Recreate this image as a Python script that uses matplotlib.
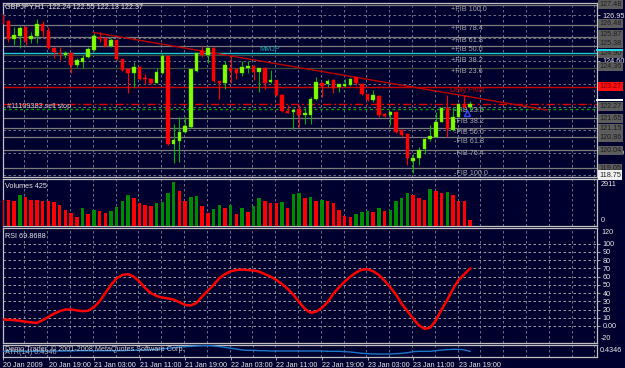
import numpy as np
import matplotlib
matplotlib.use("Agg")
import matplotlib.pyplot as plt
from matplotlib.transforms import blended_transform_factory

plt.rcParams['font.family'] = ['Liberation Sans', 'DejaVu Sans']

# GBPJPY H1 bars, 20 Jan 2009 11:00 .. 23 Jan 2009 21:00
opens = [126.95, 126.66, 125.72, 125.87, 126.32, 125.70, 125.87, 126.47, 126.13, 125.28,
         125.02, 124.90, 125.02, 124.39, 124.53, 124.78, 125.16, 125.84, 125.79, 125.38,
         125.67, 124.68, 124.18, 124.00, 124.30, 123.71, 123.67, 123.48, 123.96, 124.85,
         120.32, 120.51, 120.94, 121.19, 124.08, 125.11, 124.90, 125.28, 123.57, 123.48,
         124.25, 124.17, 123.96, 124.25, 124.35, 124.01, 124.25, 123.50, 123.62, 122.85,
         122.05, 121.98, 122.12, 121.84, 121.83, 122.63, 123.48, 123.41, 123.62, 123.24,
         123.31, 123.36, 123.76, 123.41, 122.89, 122.60, 122.82, 121.86, 121.83, 122.00,
         121.06, 120.85, 119.49, 119.61, 120.07, 120.58, 120.72, 121.48, 122.20, 121.06,
         121.74, 122.37, 122.24]
highs = [127.00, 126.69, 126.35, 126.39, 126.35, 126.10, 126.73, 126.66, 126.32, 125.33,
         125.33, 125.12, 125.07, 124.73, 124.90, 125.33, 126.01, 126.10, 125.81, 125.76,
         125.70, 124.70, 124.22, 124.56, 124.34, 123.93, 123.71, 124.22, 124.99, 124.87,
         121.37, 121.74, 121.74, 124.19, 125.07, 125.36, 125.33, 125.33, 123.59, 124.59,
         124.85, 124.20, 124.59, 124.59, 124.39, 124.24, 124.30, 124.13, 123.64, 122.89,
         122.34, 122.12, 122.34, 122.17, 122.77, 123.79, 123.53, 123.67, 123.65, 123.41,
         123.65, 123.74, 123.79, 123.45, 122.91, 123.11, 122.84, 121.91, 122.03, 122.02,
         121.09, 120.89, 119.83, 120.20, 120.63, 121.31, 122.00, 122.25, 122.85, 122.25,
         122.42, 122.85, 122.55]
lows = [126.50, 125.58, 125.41, 125.24, 125.41, 125.50, 125.50, 125.84, 125.19, 124.73,
        124.65, 124.73, 123.96, 124.30, 124.25, 124.73, 125.12, 125.58, 125.33, 125.29,
        124.65, 124.10, 122.97, 123.28, 123.62, 123.41, 123.41, 123.45, 123.93, 120.29,
        119.38, 119.43, 120.89, 121.14, 124.05, 124.82, 124.47, 123.53, 122.65, 123.14,
        123.48, 123.67, 123.83, 124.00, 123.62, 123.02, 123.14, 123.45, 122.80, 122.00,
        121.91, 121.09, 121.19, 121.37, 121.37, 122.60, 122.73, 123.24, 122.94, 123.02,
        123.24, 123.33, 123.36, 122.85, 122.54, 122.51, 121.74, 121.71, 121.31, 120.92,
        120.72, 119.26, 118.84, 119.26, 119.83, 120.51, 120.68, 121.45, 120.72, 121.02,
        121.71, 122.20, 122.13]
closes = [126.56, 125.70, 125.93, 126.27, 125.64, 125.87, 126.47, 126.15, 125.24, 125.04,
          124.95, 125.02, 124.39, 124.65, 124.73, 125.19, 125.87, 125.70, 125.36, 125.67,
          124.68, 124.13, 124.00, 124.27, 123.67, 123.65, 123.48, 124.01, 124.85, 120.32,
          120.55, 120.94, 121.26, 124.17, 125.02, 124.90, 125.28, 123.57, 123.45, 124.39,
          124.10, 123.96, 124.27, 124.35, 124.01, 124.22, 123.48, 123.62, 122.85, 122.05,
          121.95, 122.08, 121.83, 121.95, 122.65, 123.53, 123.33, 123.57, 123.19, 123.40,
          123.41, 123.67, 123.45, 122.90, 122.60, 122.85, 121.83, 121.79, 122.00, 120.97,
          120.80, 119.61, 119.61, 120.03, 120.58, 120.75, 121.48, 122.20, 121.09, 121.74,
          122.37, 122.24, 122.37]
volumes = [1747, 1740, 1680, 2061, 1904, 1747, 1740, 1635, 1630, 1613,
           1411, 1075, 829, 605, 1165, 784, 1075, 1008, 851, 963,
           1232, 1680, 2061, 1882, 1501, 1411, 1344, 1523, 1568, 2173,
           2911, 2285, 1635, 1949, 1971, 1344, 851, 1120, 1389, 1165,
           1411, 762, 1187, 896, 1299, 1837, 1635, 1523, 1501, 1613,
           1210, 2128, 2173, 1837, 1949, 1680, 1725, 1635, 1501, 1075,
           672, 605, 762, 896, 963, 896, 1165, 963, 1075, 1658,
           1859, 2195, 2061, 1882, 1747, 2419, 2307, 2195, 2240, 2061,
           1680, 1658, 425]
rsi = [7.8, 7.5, 7.2, 6.3, 5.2, 4.3, 3.8, 7.0, 11.0, 15.0,
       18.0, 20.0, 20.0, 19.0, 18.0, 18.5, 23.0, 30.0, 40.0, 50.0,
       58.0, 62.0, 63.0, 60.0, 54.0, 46.0, 40.0, 36.5, 34.5, 33.5,
       32.0, 29.0, 25.5, 25.0, 28.0, 36.0, 43.0, 50.0, 58.0, 63.0,
       66.5, 68.0, 68.5, 68.0, 67.5, 66.0, 63.0, 60.0, 56.0, 51.0,
       45.0, 38.0, 29.0, 21.0, 16.0, 17.5, 22.0, 29.0, 39.0, 47.0,
       54.0, 60.0, 65.0, 68.5, 69.0, 66.5, 62.0, 55.0, 47.0, 38.0,
       27.0, 18.0, 9.0, 1.0, -3.5, -2.0, 7.0, 20.0, 32.0, 45.0,
       56.0, 63.0, 69.8688]
atr = [0.435, 0.435, 0.435, 0.435, 0.435, 0.435, 0.435, 0.435, 0.450, 0.450,
       0.450, 0.450, 0.450, 0.465, 0.465, 0.465, 0.465, 0.465, 0.465, 0.465,
       0.465, 0.465, 0.481, 0.481, 0.496, 0.496, 0.511, 0.527, 0.542, 0.572,
       0.603, 0.633, 0.649, 0.664, 0.679, 0.695, 0.695, 0.679, 0.649, 0.618,
       0.572, 0.542, 0.496, 0.481, 0.481, 0.465, 0.465, 0.450, 0.450, 0.450,
       0.450, 0.450, 0.450, 0.450, 0.450, 0.450, 0.450, 0.435, 0.435, 0.435,
       0.419, 0.404, 0.373, 0.343, 0.328, 0.312, 0.312, 0.312, 0.312, 0.328,
       0.343, 0.373, 0.419, 0.435, 0.435, 0.435, 0.465, 0.496, 0.511, 0.527,
       0.527, 0.496, 0.4346]

date_pos = [0, 8, 16, 24, 32, 40, 48, 56, 64, 72, 80]
date_labels = ['20 Jan 2009', '20 Jan 19:00', '21 Jan 03:00', '21 Jan 11:00', '21 Jan 19:00',
               '22 Jan 03:00', '22 Jan 11:00', '22 Jan 19:00', '23 Jan 03:00', '23 Jan 11:00',
               '23 Jan 19:00']

price_ticks = [126.95, 124.60, 122.25, 119.90]
price_grid = [126.95, 125.78, 124.60, 123.43, 122.25, 121.08, 119.90, 118.73]
fib_lines = [127.46, 126.44, 125.84, 125.38, 124.90, 124.25, 121.66, 121.14, 120.71, 120.03, 119.09]
fib_names = ['+FIB 100.0', '+FIB 78.4', '+FIB 61.8', '+FIB 50.0', '+FIB 38.2', '+FIB 23.6',
             '-FIB 23.6', '-FIB 38.2', '-FIB 50.0', '-FIB 61.8', '-FIB 76.4', '-FIB 100.0']
fib_label_prices = [127.24, 126.27, 125.62, 125.16, 124.63, 124.04,
                    122.08, 121.47, 120.95, 120.46, 119.83, 118.85]
box_labels = ['127.48', '126.48', '125.87', '125.38', '124.90', '124.36',
              '122.27', '121.65', '121.15', '120.86', '120.04', '119.05']
box_prices = [127.51, 126.53, 125.95, 125.47, 124.96, 124.32,
              122.25, 121.64, 121.12, 120.66, 120.01, 119.07]
pivot = 123.27
cyan_level = 125.02
order_level = 122.37
stop_level = 122.12
ask_level = 122.59
trend_x = [15.84, 95.5]
trend_y = [126.06, 122.08]
rsi_levels = [100, 90, 80, 70, 60, 50, 40, 30, 20, 10, 0]

# ---- styling ----
BG = '#00002e'
FRAME = '#c0c0c0'
GRID = '#7a8494'
TXT = '#e8e8e8'
FS = 5.2
W, H = 625, 368


def rect(x0, y0, x1, y1):
    return [x0 / W, 1 - y1 / H, (x1 - x0) / W, (y1 - y0) / H]


def ftext(x, y, s, **kw):
    kw.setdefault('color', TXT)
    kw.setdefault('fontsize', FS)
    kw.setdefault('va', 'center')
    return fig.text(x / W, 1 - y / H, s, **kw)


fig = plt.figure(figsize=(W / 100, H / 100), dpi=100, facecolor=BG)

ax_main = fig.add_axes(rect(3, 3, 597, 177))
ax_vol = fig.add_axes(rect(3, 179, 597, 226))
ax_rsi = fig.add_axes(rect(3, 228, 597, 343))
ax_atr = fig.add_axes(rect(3, 345, 597, 357))

n = len(closes)
idx = np.arange(n)
xlim = (0.05, 104.26)
vgrid = [4 * k - 0.2 for k in range(1, 27)]

for ax in (ax_main, ax_vol, ax_rsi, ax_atr):
    ax.set_facecolor(BG)
    ax.set_xlim(*xlim)
    for sp in ax.spines.values():
        sp.set_color(FRAME)
        sp.set_linewidth(0.9)
    ax.tick_params(axis='x', bottom=False, labelbottom=False)
    ax.tick_params(axis='y', left=False, labelleft=False)
    for gx in vgrid:
        ax.axvline(gx, color=GRID, lw=0.6, ls=(0, (3, 3)), zorder=1)

# ---- main price panel ----
ax_main.set_ylim(118.648, 127.565)
for p in price_grid:
    ax_main.axhline(p, color=GRID, lw=0.6, ls=(0, (3, 3)), zorder=1)
for k, p in enumerate(fib_lines):
    col = '#3d4d3d' if k in (4, 5) else '#7c7c7c'
    ax_main.axhline(p, color=col, lw=0.9, zorder=2)
ax_main.axhline(cyan_level, color='#1fc8d0', lw=1.0, zorder=2)
ax_main.axhline(pivot, color='#c80000', lw=1.0, zorder=2)
ax_main.axhline(order_level, color='#e00000', lw=1.0, ls=(0, (6, 2, 1.5, 2)), zorder=2)
ax_main.axhline(stop_level, color='#00a000', lw=1.0, ls=(0, (2, 2)), zorder=2)
ax_main.plot(trend_x, trend_y, color='#c00000', lw=1.0, zorder=3)

o = np.array(opens)
c = np.array(closes)
h = np.array(highs)
l = np.array(lows)
up = c >= o
body_lo = np.minimum(o, c)
body_h = np.maximum(np.abs(c - o), 0.05)
ax_main.vlines(idx[up], l[up], h[up], color='#00b400', lw=0.8, zorder=5)
ax_main.vlines(idx[~up], l[~up], h[~up], color='#ff0000', lw=0.8, zorder=5)
ax_main.bar(idx[up], body_h[up], bottom=body_lo[up], width=0.62, color='#80ff00',
            edgecolor='#60d000', lw=0.3, zorder=6)
ax_main.bar(idx[~up], body_h[~up], bottom=body_lo[~up], width=0.62, color='#ff0000',
            edgecolor='#ff0000', lw=0.3, zorder=6)

for name, p in zip(fib_names, fib_label_prices):
    xoff = 78.6 if name.startswith('+') else 79.2
    ax_main.text(xoff, p, name, color='#a8a8a8', fontsize=FS, va='center', zorder=4)
ax_main.text(78.4, 123.06, 'Daily Pivot', color='#c80000', fontsize=FS, va='center', zorder=4)
ax_main.text(45.1, 125.20, 'MMJP', color='#20a8b0', fontsize=FS, va='center', zorder=4)
ax_main.plot([81.4], [121.92], marker='^', ms=4, mfc='none', mec='#3050ff', mew=1.0, zorder=7)

ax_main.yaxis.tick_right()
ax_main.set_yticks(price_ticks)
ax_main.set_yticklabels(['126.95', '124.60', '', '119.90'])
ax_main.tick_params(axis='y', right=True, labelright=True, length=2, width=0.6,
                    color=FRAME, labelcolor=TXT, labelsize=FS, pad=2)

tr = blended_transform_factory(ax_main.transAxes, ax_main.transData)
for lab, p in zip(box_labels, box_prices):
    ax_main.text(1.004, p, lab, transform=tr, color='#1e1e1e', fontsize=FS, va='center',
                 clip_on=False, zorder=8,
                 bbox=dict(boxstyle='square,pad=0.15', fc='#5c5c5c', ec='none'))
ax_main.text(1.004, pivot, f'{pivot:.2f}', transform=tr, color='#7a0000', fontsize=FS,
             va='center', clip_on=False, zorder=9,
             bbox=dict(boxstyle='square,pad=0.15', fc='#ff1010', ec='none'))
ax_main.text(1.004, 118.75, '118.75', transform=tr, color='#202020', fontsize=FS,
             va='center', clip_on=False, zorder=9,
             bbox=dict(boxstyle='square,pad=0.15', fc='#f0f0f0', ec='none'))
ax_main.plot([1.0, 1.042], [ask_level, ask_level], transform=tr, color='white', lw=1.4,
             clip_on=False, zorder=9)
ax_main.plot([1.0, 1.042], [cyan_level + 0.12, cyan_level + 0.12], transform=tr,
             color='#20e0f0', lw=1.4, clip_on=False, zorder=9)

ftext(5, 7, 'GBPJPY,H1  122.24 122.55 122.13 122.37')
ftext(7, 106, '#11109383 sell stop', color='#c8c8c8')

# ---- volume panel ----
v = np.array(volumes)
vup = np.r_[False, v[1:] > v[:-1]]
ax_vol.set_ylim(0, 3110)
ax_vol.bar(idx[vup], v[vup], width=0.62, color='#008a00', lw=0, zorder=3)
ax_vol.bar(idx[~vup], v[~vup], width=0.62, color='#ff0000', lw=0, zorder=3)
ftext(5, 187, f'Volumes {volumes[-1]}')
ftext(601, 185, f'{max(volumes)}')
ftext(601, 220, '0')

# ---- RSI panel ----
ax_rsi.set_ylim(-20.7, 119.1)
for lv in rsi_levels:
    ax_rsi.axhline(lv, color='#b8b8b8', lw=0.6, ls=(0, (3, 3)), zorder=1)
ax_rsi.plot(idx, rsi, color='#ff0000', lw=1.8, zorder=4)
ax_rsi.yaxis.tick_right()
ax_rsi.set_yticks(rsi_levels)
ax_rsi.set_yticklabels([str(lv) if lv else '0.00' for lv in rsi_levels])
ax_rsi.tick_params(axis='y', right=True, labelright=True, length=2, width=0.6,
                   color=FRAME, labelcolor=TXT, labelsize=FS, pad=2)
ftext(5, 237, f'RSI {rsi[-1]:.4f}')
ftext(601, 232.5, '120')
ftext(601, 338, '-20')

# ---- ATR panel ----
ax_atr.set_ylim(0.175, 0.725)
ax_atr.plot(idx, atr, color='#1c78c8', lw=1.0, zorder=4)
ftext(5, 352, f'ATR(14) {atr[-1]:.4f}', color='#b0b0b0')
ftext(5, 349.5, 'Demo Trader, \u00a9 2001-2008 MetaQuotes Software Corp.', color='#d0d0d0')
ftext(600, 350.5, f'{atr[-1]:.4f}')

ax_atr.set_xticks(date_pos)
ax_atr.set_xticklabels(date_labels)
ax_atr.tick_params(axis='x', bottom=True, labelbottom=True, length=2, width=0.6,
                   color=FRAME, labelcolor=TXT, labelsize=FS, pad=1.5)
for t in ax_atr.get_xticklabels():
    t.set_ha('left')

fig.savefig('out.png', dpi=100, facecolor=BG)
